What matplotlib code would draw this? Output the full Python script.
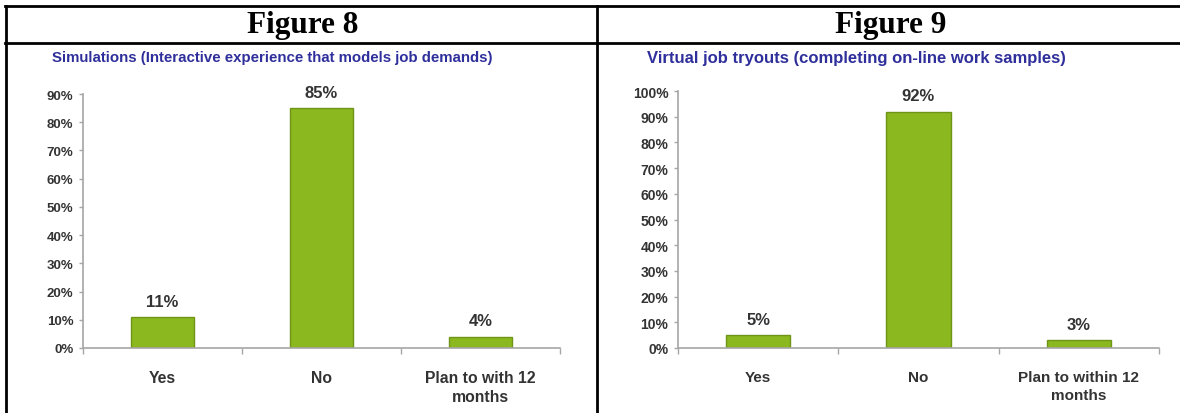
import matplotlib.pyplot as plt
from matplotlib.lines import Line2D

# data
cats8 = ["Yes", "No", "Plan to with 12\nmonths"]
vals8 = [11, 85, 4]
cats9 = ["Yes", "No", "Plan to within 12\nmonths"]
vals9 = [5, 92, 3]

W, H = 1180, 414
BAR = "#8ab81e"
EDGE = "#6f9418"
AXC = "#a6a6a6"
TXT = "#333333"
BLUE = "#2f2f9c"


def px(x0, y0, x1, y1):
    # pixel box (top-left origin) -> figure fraction rect
    return [x0 / W, 1 - y1 / H, (x1 - x0) / W, (y1 - y0) / H]


def bar_panel(ax, cats, vals, ymax, ysize, xsize):
    xs = range(len(cats))
    ax.bar(xs, vals, width=0.4, color=BAR, edgecolor=EDGE, linewidth=1, zorder=2)
    for x, v in zip(xs, vals):
        ax.annotate(f"{v}%", (x, v), xytext=(0, 6), textcoords="offset points",
                    ha="center", va="bottom", fontsize=12, fontweight="bold",
                    color=TXT, family="Liberation Sans")
    ax.set_xlim(-0.5, len(cats) - 0.5)
    ax.set_ylim(0, ymax)
    ax.set_yticks(range(0, ymax + 1, 10))
    ax.set_yticklabels([f"{t}%" for t in range(0, ymax + 1, 10)])
    ax.set_xticks(list(xs))
    ax.set_xticklabels(cats, linespacing=1.35)
    ax.set_xticks([i - 0.5 for i in range(len(cats) + 1)], minor=True)
    for s in ["top", "right"]:
        ax.spines[s].set_visible(False)
    for s in ["left", "bottom"]:
        ax.spines[s].set_color(AXC)
        ax.spines[s].set_linewidth(1.2)
    ax.tick_params(axis="y", colors=AXC, length=3, width=1, labelcolor=TXT,
                   labelsize=ysize, pad=4)
    ax.tick_params(axis="x", which="major", length=0, labelcolor=TXT,
                   labelsize=xsize, pad=16)
    ax.tick_params(axis="x", which="minor", colors=AXC, length=4, width=1)
    for lab in ax.get_yticklabels() + ax.get_xticklabels():
        lab.set_fontweight("bold")
        lab.set_family("Liberation Sans")
    ax.patch.set_alpha(0)


fig = plt.figure(figsize=(W / 100, H / 100), dpi=100)

ax1 = fig.add_axes(px(83, 95, 560, 349))
bar_panel(ax1, cats8, vals8, 90, 9.5, 11.3)
ax2 = fig.add_axes(px(678, 92, 1159, 349))
bar_panel(ax2, cats9, vals9, 100, 10, 11)

# table frame around the figures
lw = 2
for y in [6.5, 44]:
    fig.add_artist(Line2D([5 / W, 1], [1 - y / H] * 2, color="black", lw=lw))
for x in [5.5, 597]:
    fig.add_artist(Line2D([x / W] * 2, [0, 1 - 6.5 / H], color="black", lw=lw))

fig.text(303 / W, 1 - 25 / H, "Figure 8", ha="center", va="center",
         fontsize=22.5, fontweight="bold", family="Liberation Serif")
fig.text(891 / W, 1 - 25 / H, "Figure 9", ha="center", va="center",
         fontsize=22.5, fontweight="bold", family="Liberation Serif")
fig.text(52 / W, 1 - 58 / H, "Simulations (Interactive experience that models job demands)",
         ha="left", va="center", fontsize=10.8, fontweight="bold", color=BLUE,
         family="Liberation Sans")
fig.text(647 / W, 1 - 58 / H, "Virtual job tryouts (completing on-line work samples)",
         ha="left", va="center", fontsize=12, fontweight="bold", color=BLUE,
         family="Liberation Sans")

fig.savefig("out.png", dpi=100)
